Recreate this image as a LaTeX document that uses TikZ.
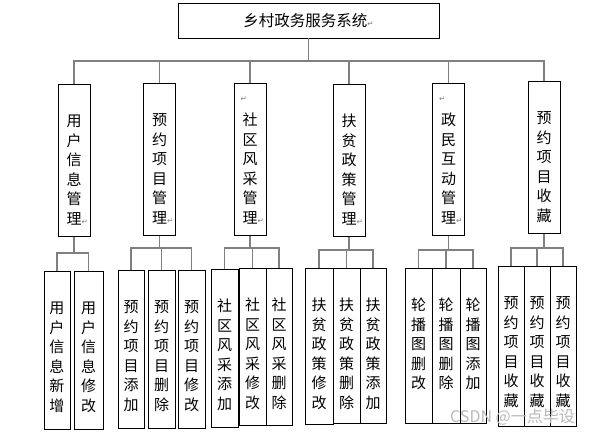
\documentclass[tikz,border=0pt]{standalone}
\usepackage{fontspec}
\setmainfont{Noto Sans CJK SC}
\newfontfamily\fhfont{DejaVu Sans}
\usepackage{tikz}

\newcommand{\hc}{{\fhfont\fontsize{7.5}{7.5}\selectfont\textcolor{gray}{↵}}}
\newcommand{\shu}[2]{\parbox[t][#1][t]{1.2em}{\centering\rule{0pt}{23pt}#2}}

\begin{document}
\begin{tikzpicture}[x=1pt, y=-1pt,
		box/.style={draw, line width=0.8pt, inner sep=0pt, anchor=north, font=\fontsize{15}{19.5}\selectfont},
		lvtwo/.style={box, minimum width=32pt},
		lvthree/.style={box, minimum width=27pt},
		conn/.style={draw=gray, line width=1.4pt}]
	\useasboundingbox (0, 0) rectangle (597, 436);

		\node[draw, line width=0.8pt, minimum width=261pt, minimum height=35pt, font=\fontsize{15.5}{18}\selectfont] at (308.5, 20.5) (root) {乡村政务服务系统\hc};

		\node[lvtwo] at (74, 84) (m1) {\shu{152pt}{\\用\\户\\信\\息\\管\\理\rlap{\hc}}};
		\node[lvtwo] at (159.5, 83) (m2) {\shu{152pt}{\\预\\约\\项\\目\\管\\理\rlap{\hc}}};
		\node[lvtwo] at (250, 83) (m3) {\shu{152pt}{\raisebox{5pt}{\llap{\hc\hspace{3pt}}}\\社\\区\\风\\采\\管\\理\rlap{\hc}}};
		\node[lvtwo] at (349, 84) (m4) {\shu{152pt}{\\扶\\贫\\政\\策\\管\\理\rlap{\hc}}};
		\node[lvtwo] at (448.5, 83) (m5) {\shu{152pt}{\raisebox{5pt}{\llap{\hc\hspace{3pt}}}\\政\\民\\互\\动\\管\\理\rlap{\hc}}};
		\node[lvtwo] at (544, 81) (m6) {\shu{152pt}{\\预\\约\\项\\目\\收\\藏}};

		\node[lvthree, minimum width=26pt] at (57, 271) (s11) {\shu{158pt}{\\用\\户\\信\\息\\新\\增}};
		\node[lvthree, minimum width=29pt] at (88.5, 271) (s12) {\shu{158pt}{\\用\\户\\信\\息\\修\\改}};

		\node[lvthree, minimum width=26pt] at (131, 270) (s21) {\shu{158pt}{\\预\\约\\项\\目\\添\\加}};
		\node[lvthree] at (161.5, 270) (s22) {\shu{158pt}{\\预\\约\\项\\目\\删\\除}};
		\node[lvthree] at (191.5, 270) (s23) {\shu{158pt}{\\预\\约\\项\\目\\修\\改}};

		\node[lvthree] at (224.5, 269) (s31) {\shu{158pt}{\\社\\区\\风\\采\\添\\加}};
		\node[lvthree] at (252.5, 268) (s32) {\shu{157pt}{\\社\\区\\风\\采\\修\\改}};
		\node[lvthree, minimum width=26pt] at (279, 268) (s33) {\shu{157pt}{\\社\\区\\风\\采\\删\\除}};

		\node[lvthree, minimum width=28pt] at (319, 268) (s41) {\shu{156pt}{\\扶\\贫\\政\\策\\修\\改}};
		\node[lvthree] at (346.5, 268) (s42) {\shu{155pt}{\\扶\\贫\\政\\策\\删\\除}};
		\node[lvthree, minimum width=26pt] at (373, 268) (s43) {\shu{155pt}{\\扶\\贫\\政\\策\\添\\加}};

		\node[lvthree] at (418.5, 268) (s51) {\shu{155pt}{\\轮\\播\\图\\删\\改}};
		\node[lvthree, minimum width=28pt] at (446, 268) (s52) {\shu{155pt}{\\轮\\播\\图\\删\\除}};
		\node[lvthree, minimum width=26pt] at (473, 268) (s53) {\shu{155pt}{\\轮\\播\\图\\添\\加}};

		\node[lvthree, minimum width=26pt] at (511, 266) (s61) {\shu{160pt}{\\预\\约\\项\\目\\收\\藏}};
		\node[lvthree, minimum width=26pt] at (537, 266) (s62) {\shu{160pt}{\\预\\约\\项\\目\\收\\藏}};
		\node[lvthree, minimum width=26pt] at (563, 266) (s63) {\shu{160pt}{\\预\\约\\项\\目\\收\\藏}};

		% bus lines
		\coordinate (bus) at (0, 61);
		\coordinate (g1) at (0, 253);
		\coordinate (g2) at (0, 248);
		\coordinate (g3) at (0, 248);
		\coordinate (g4) at (0, 250);
		\coordinate (g5) at (0, 250);
		\coordinate (g6) at (0, 248);

		\draw[conn] (root.south) -- (root.south |- bus);
		\draw[conn] (m1.north) -- (m1.north |- bus) -- (m6.north |- bus) -- (m6.north);
		\draw[conn] (m2.north) -- (m2.north |- bus);
		\draw[conn] (m3.north) -- (m3.north |- bus);
		\draw[conn] (m4.north) -- (m4.north |- bus);
		\draw[conn] (m5.north) -- (m5.north |- bus);

		\draw[conn] (m1.south) -- (m1.south |- g1);
		\draw[conn] (s11.north) -- (s11.north |- g1) -- (s12.north |- g1) -- (s12.north);

		\draw[conn] (m2.south) -- (m2.south |- g2);
		\draw[conn] (s21.north) -- (s21.north |- g2) -- (s23.north |- g2) -- (s23.north);
		\draw[conn] (s22.north) -- (s22.north |- g2);

		\draw[conn] (m3.south) -- (m3.south |- g3);
		\draw[conn] (s31.north) -- (s31.north |- g3) -- (s33.north |- g3) -- (s33.north);
		\draw[conn] (s32.north) -- (s32.north |- g3);

		\draw[conn] (m4.south) -- (m4.south |- g4);
		\draw[conn] (s41.north) -- (s41.north |- g4) -- (s43.north |- g4) -- (s43.north);
		\draw[conn] (s42.north) -- (s42.north |- g4);

		\draw[conn] (m5.south) -- (m5.south |- g5);
		\draw[conn] (s51.north) -- (s51.north |- g5) -- (s53.north |- g5) -- (s53.north);
		\draw[conn] (s52.north) -- (s52.north |- g5);

		\draw[conn] (m6.south) -- (m6.south |- g6);
		\draw[conn] (s61.north) -- (s61.north |- g6) -- (s63.north |- g6) -- (s63.north);
		\draw[conn] (s62.north) -- (s62.north |- g6);

		\node[text=gray!55, font=\fontsize{16}{16}\selectfont] at (512.5, 417) (wm) {CSDN @一点毕设};
\end{tikzpicture}
\end{document}
